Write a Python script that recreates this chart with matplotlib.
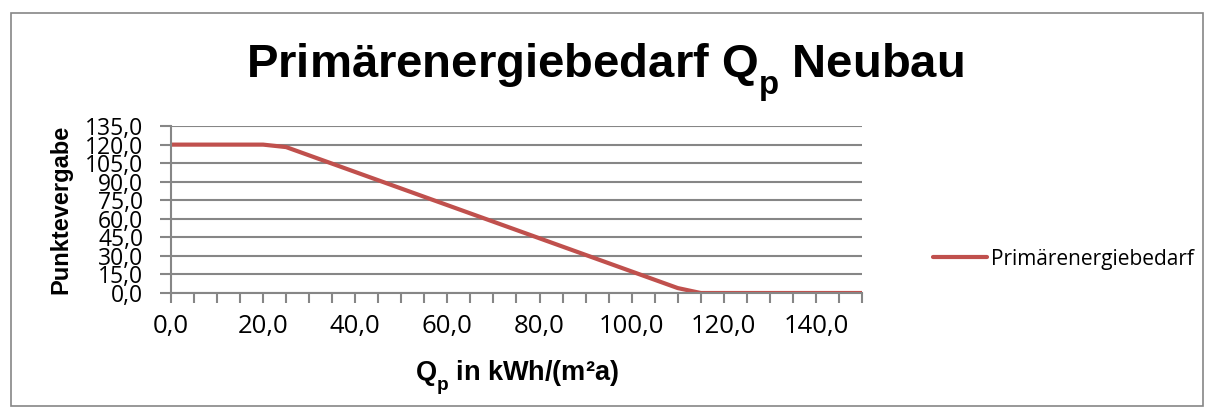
import matplotlib
matplotlib.use("Agg")
import matplotlib.pyplot as plt
import matplotlib._mathtext as mtext
from matplotlib.patches import Rectangle

# Daten
qp = [0, 20, 25, 110, 115, 150]
punkte = [120, 120, 118, 4, 0, 0]
x_labels = ["0,0", "20,0", "40,0", "60,0", "80,0", "100,0", "120,0", "140,0"]
x_label_pos = [0, 20, 40, 60, 80, 100, 120, 140]
y_ticks = [0, 15, 30, 45, 60, 75, 90, 105, 120, 135]
y_labels = ["0,0", "15,0", "30,0", "45,0", "60,0", "75,0", "90,0", "105,0", "120,0", "135,0"]
serie = "Primärenergiebedarf"

plt.rcParams["mathtext.fontset"] = "custom"
plt.rcParams["mathtext.rm"] = "Liberation Sans:bold"
plt.rcParams["mathtext.bf"] = "Liberation Sans:bold"
plt.rcParams["mathtext.it"] = "Liberation Sans:bold"
# Index tiefer setzen (wie in Excel), kein Extra-Abstand danach
mtext.FontConstantsBase.sub1 = 0.7
mtext.FontConstantsBase.script_space = 0.0

grau = "#868686"
rot = "#C0504D"

fig = plt.figure(figsize=(12.09, 4.12), dpi=100)
ax = fig.add_axes([0.1414, 0.2888, 0.713 - 0.1414, 0.694 - 0.2888])

# Rahmen um das ganze Diagramm
fig.patches.append(Rectangle((11 / 1209, 6 / 412), 1192 / 1209, 393 / 412,
                             transform=fig.transFigure, fill=False,
                             edgecolor=grau, linewidth=1.2))

ax.plot(qp, punkte, color=rot, linewidth=3, label=serie, solid_capstyle="round")

ax.set_xlim(0, 150)
ax.set_ylim(0, 135)
ax.set_xticks(x_label_pos)
ax.set_xticklabels(x_labels, fontfamily="Open Sans", fontsize=18.5)
ax.set_xticks(range(0, 151, 5), minor=True)
ax.set_yticks(y_ticks)
ax.set_yticklabels(y_labels, fontfamily="Open Sans", fontsize=16.5)

ax.tick_params(axis="x", which="both", direction="out", length=7, width=1.5,
               color=grau, pad=8)
ax.tick_params(axis="y", direction="out", length=8, width=1.5, color=grau, pad=12)
ax.grid(axis="y", color=grau, linewidth=1.5)
ax.set_axisbelow(True)

for s in ["top", "right"]:
    ax.spines[s].set_visible(False)
for s in ["left", "bottom"]:
    ax.spines[s].set_color(grau)
    ax.spines[s].set_linewidth(1.5)

ax.set_ylabel("Punktevergabe", fontfamily="Liberation Sans", fontweight="bold",
              fontsize=17, labelpad=9)
ax.set_xlabel(r"Q$_\mathbf{p}$ in kWh/(m²a)", fontfamily="Liberation Sans",
              fontweight="bold", fontsize=19.5, labelpad=14)

fig.text(0.5, 1 - 78 / 412, r"Primärenergiebedarf Q$_\mathbf{p}$ Neubau",
         ha="center", va="baseline", fontfamily="Liberation Sans",
         fontweight="bold", fontsize=34)

fig.legend(loc="center left", bbox_to_anchor=(914 / 1209, 1 - 259 / 412),
           frameon=False, handlelength=2.6, handletextpad=0.2,
           prop={"family": "Open Sans", "size": 15})

fig.savefig("out.png", dpi=100)
